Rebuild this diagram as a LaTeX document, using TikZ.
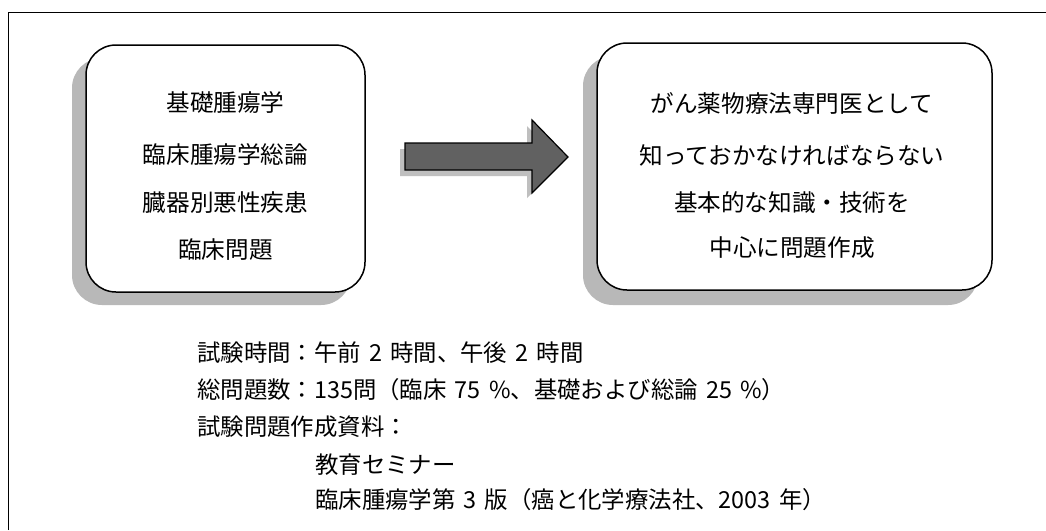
\documentclass[tikz,border=0pt]{standalone}
\usepackage{fontspec}
\newfontfamily\jp{Noto Sans CJK JP}
\newcommand{\gp}{\hspace{0.35em}}
\begin{document}
\begin{tikzpicture}[x=1pt,y=-1pt,
  boxsh/.style={fill=black!28,draw=none,rounded corners=30pt},
  box/.style={fill=white,draw=black,line width=1.5pt,rounded corners=30pt},
  btxt/.style={font=\jp\fontsize{23.6}{28}\selectfont,inner sep=0pt,anchor=center},
  ltxt/.style={font=\jp\fontsize{23.4}{28}\selectfont,inner sep=0pt,anchor=west}]
\useasboundingbox (0,0) rectangle (1046,530);
\fill[white] (0,0) rectangle (1046,530);
% frame
\draw[line width=1pt] (8,530) -- (8,12) -- (1046,12);
% left box
\fill[boxsh] (72,58) rectangle (351,305);
\draw[box] (86,45) rectangle (365,292);
\node[btxt] (l1) at (225.5,103) {基礎腫瘍学};
\node[btxt] (l2) at (225.5,155) {臨床腫瘍学総論};
\node[btxt] (l3) at (225.5,203) {臓器別悪性疾患};
\node[btxt] (l4) at (225.5,250) {臨床問題};
% right box
\fill[boxsh] (583,56) rectangle (978,305);
\draw[box] (597,43) rectangle (992,290);
\node[btxt] (r1) at (792,103) {がん薬物療法専門医として};
\node[btxt] (r2) at (792,155) {知っておかなければならない};
\node[btxt] (r3) at (792,203) {基本的な知識・技術を};
\node[btxt] (r4) at (792,248) {中心に問題作成};
% block arrow
\fill[black!25] (400,149) -- (527,149) -- (527,126) -- (563,163) -- (527,198) -- (527,176) -- (400,176) -- cycle;
\draw[fill=black!62,line width=1.2pt,line join=miter] (405,143) -- (532,143) -- (532,120) -- (568,157) -- (532,193) -- (532,170) -- (405,170) -- cycle;
% bottom text
\node[ltxt] (t1) at (197,353) {試験時間：午前\gp 2\gp 時間、午後\gp 2\gp 時間};
\node[ltxt] (t2) at (197,390) {総問題数：135問（臨床\gp 75\gp \%、基礎および総論\gp 25\gp \%）};
\node[ltxt] (t3) at (197,427) {試験問題作成資料：};
\node[ltxt] (t4) at (315,465) {教育セミナー};
\node[ltxt] (t5) at (315,500) {臨床腫瘍学第\gp 3\gp 版（癌と化学療法社、2003\gp 年）};
\end{tikzpicture}
\end{document}
